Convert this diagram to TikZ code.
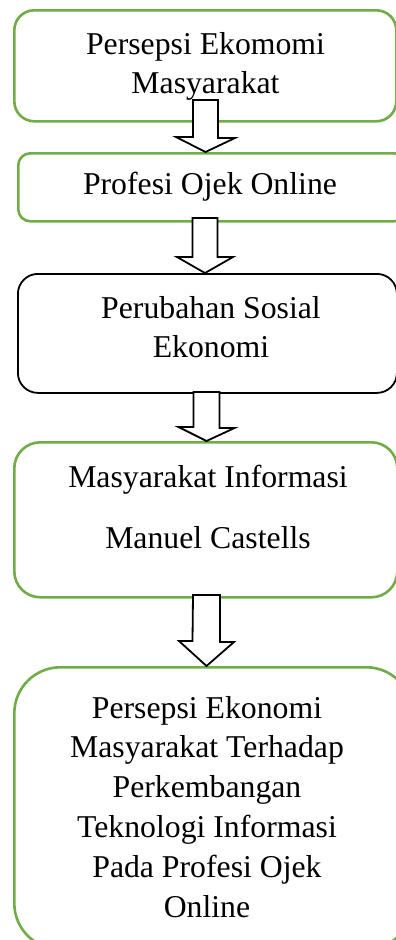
\documentclass[tikz,border=0pt]{standalone}
\usepackage{fontspec}
\setmainfont{Liberation Serif}
\definecolor{boxgreen}{HTML}{70AD47}
\begin{document}
\begin{tikzpicture}[x=1pt,y=-1pt,
  gbox/.style={draw=boxgreen, line width=2.6pt, fill=white, rectangle, inner sep=0pt, anchor=north west},
  kbox/.style={draw=black, line width=1.8pt, fill=white, rectangle, inner sep=0pt, anchor=north west},
  lbl/.style={font=\fontsize{31.75}{39}\selectfont, inner sep=0pt, anchor=base},
  blockarrow/.style={draw=black, line width=1.8pt, fill=white, line join=miter}
]
\useasboundingbox (0,0) rectangle (396,940);
\clip (0,0) rectangle (396,940);
\fill[white] (0,0) rectangle (396,940);

% boxes
\node[gbox, rounded corners=20pt, minimum width=382pt, minimum height=111pt] (b1) at (13,9) {};
\node[gbox, rounded corners=12pt, minimum width=388pt, minimum height=68pt] (b2) at (17,152) {};
\node[kbox, rounded corners=20pt, minimum width=379pt, minimum height=119pt] (b3) at (17,273) {};
\node[gbox, rounded corners=26pt, minimum width=383pt, minimum height=155pt] (b4) at (13,441) {};
\node[gbox, rounded corners=46pt, minimum width=398pt, minimum height=282pt] (b5) at (13,666) {};

% labels
\node[lbl] (t1) at (205.5,54) {\begin{tabular}[t]{@{}c@{}}Persepsi Ekomomi\\Masyarakat\end{tabular}};
\node[lbl] (t2) at (210,194) {Profesi Ojek Online};
\node[lbl] (t3) at (211,318) {\begin{tabular}[t]{@{}c@{}}Perubahan Sosial\\Ekonomi\end{tabular}};
\node[lbl] (t4) at (208,487) {\begin{tabular}[t]{@{}c@{}}Masyarakat Informasi\\[22pt]Manuel Castells\end{tabular}};
\node[lbl, font=\fontsize{31.75}{39.8}\selectfont] (t5) at (207,718) {\begin{tabular}[t]{@{}c@{}}Persepsi Ekonomi\\Masyarakat Terhadap\\Perkembangan\\Teknologi Informasi\\Pada Profesi Ojek\\Online\end{tabular}};

% block arrows between boxes
\coordinate (a1) at (205.5,100);
\coordinate (a2) at (205,218);
\coordinate (a3) at (206.5,392);
\coordinate (a4) at (206.5,595);
\draw[blockarrow] (a1) ++(-12.5,0) -- ++(25,0) -- ++(0,38) -- ++(17,0) -- (b2.north -| a1) -- ++(-29.5,-15) -- ++(17,0) -- cycle;
\draw[blockarrow] (a2) ++(-12.5,0) -- ++(25,0) -- ++(0,39) -- ++(15.5,0) -- (b3.north -| a2) -- ++(-28,-16) -- ++(15.5,0) -- cycle;
\draw[blockarrow] (a3) ++(-13,0) -- ++(26,0) -- ++(0,36) -- ++(15,0) -- (b4.north -| a3) -- ++(-28,-14) -- ++(15,0) -- cycle;
\draw[blockarrow] (a4) ++(-13.5,0) -- ++(27,0) -- ++(0,47) -- ++(14,0) -- (b5.north -| a4) -- ++(-27.5,-25) -- ++(13.5,0) -- cycle;
\end{tikzpicture}
\end{document}
